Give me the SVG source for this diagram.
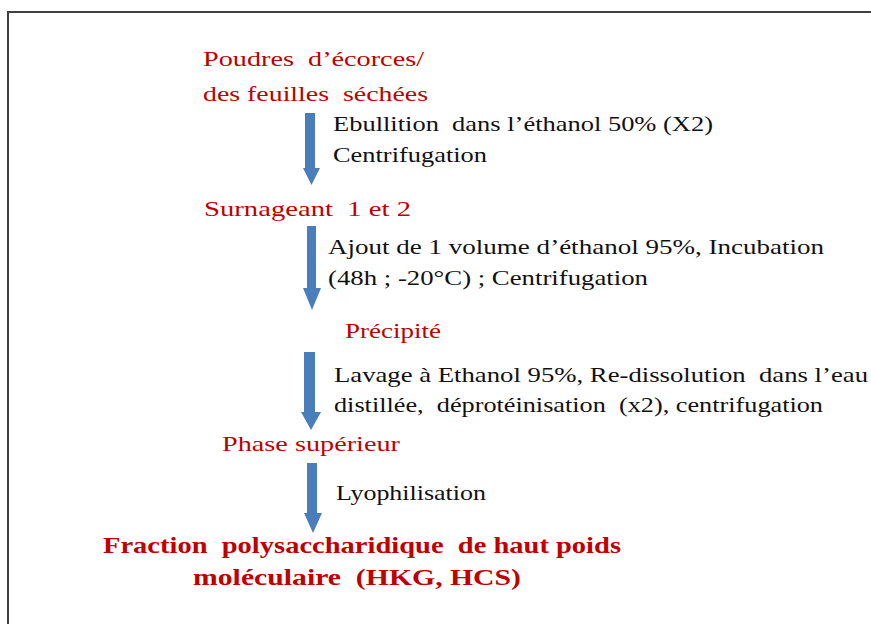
<svg xmlns="http://www.w3.org/2000/svg" width="871" height="624" viewBox="0 0 871 624">
<style>
text{font-family:"Liberation Serif","Times New Roman",serif;font-size:22px;}
.red{fill:#C00000;}
.blk{fill:#111111;}
.bold{font-weight:bold;font-size:24px;fill:#C00000;}
.arrow{fill:#4A7EBB;}
.frame{fill:none;stroke:#404040;stroke-width:2;}
</style>
<rect width="871" height="624" fill="#ffffff"/>
<path class="frame" d="M8,624 V12 H871"/>
<g id="node-poudres">
<text class="red" x="203" y="66" textLength="221" lengthAdjust="spacingAndGlyphs" xml:space="preserve">Poudres  d’écorces/</text>
<text class="red" x="203" y="101" textLength="225" lengthAdjust="spacingAndGlyphs" xml:space="preserve">des feuilles  séchées</text>
</g>
<g id="node-surnageant">
<text class="red" x="204" y="216" textLength="207" lengthAdjust="spacingAndGlyphs" xml:space="preserve">Surnageant  1 et 2</text>
</g>
<g id="node-precipite">
<text class="red" x="345" y="338" textLength="96" lengthAdjust="spacingAndGlyphs">Précipité</text>
</g>
<g id="node-phase">
<text class="red" x="222" y="451" textLength="178" lengthAdjust="spacingAndGlyphs">Phase supérieur</text>
</g>
<g id="node-fraction">
<text class="bold" x="103" y="553" textLength="518" lengthAdjust="spacingAndGlyphs" xml:space="preserve">Fraction  polysaccharidique  de haut poids</text>
<text class="bold" x="193" y="585" textLength="328" lengthAdjust="spacingAndGlyphs" xml:space="preserve">moléculaire  (HKG, HCS)</text>
</g>
<g id="connectors">
<g id="edge1">
<path class="arrow" d="M305,113 H315 V168 H320 L311.5,185 L303,168 H305 Z"/>
<text class="blk" x="333" y="131" textLength="380" lengthAdjust="spacingAndGlyphs" xml:space="preserve">Ebullition  dans l’éthanol 50% (X2)</text>
<text class="blk" x="333" y="162" textLength="154" lengthAdjust="spacingAndGlyphs">Centrifugation</text>
</g>
<g id="edge2">
<path class="arrow" d="M307,226 H316 V288 H321 L312,310 L303,288 H307 Z"/>
<text class="blk" x="328" y="254" textLength="496" lengthAdjust="spacingAndGlyphs">Ajout de 1 volume d’éthanol 95%, Incubation</text>
<text class="blk" x="328" y="285" textLength="320" lengthAdjust="spacingAndGlyphs">(48h ; -20°C) ; Centrifugation</text>
</g>
<g id="edge3">
<path class="arrow" d="M304,352 H315 V412 H321 L311,430 L301,412 H304 Z"/>
<text class="blk" x="334" y="382" textLength="534" lengthAdjust="spacingAndGlyphs" xml:space="preserve">Lavage à Ethanol 95%, Re-dissolution  dans l’eau</text>
<text class="blk" x="334" y="412" textLength="489" lengthAdjust="spacingAndGlyphs" xml:space="preserve">distillée,  déprotéinisation  (x2), centrifugation</text>
</g>
<g id="edge4">
<path class="arrow" d="M307,463 H317 V513 H322 L313,533 L304,513 H307 Z"/>
<text class="blk" x="336" y="500" textLength="150" lengthAdjust="spacingAndGlyphs">Lyophilisation</text>
</g>
</g>
</svg>
